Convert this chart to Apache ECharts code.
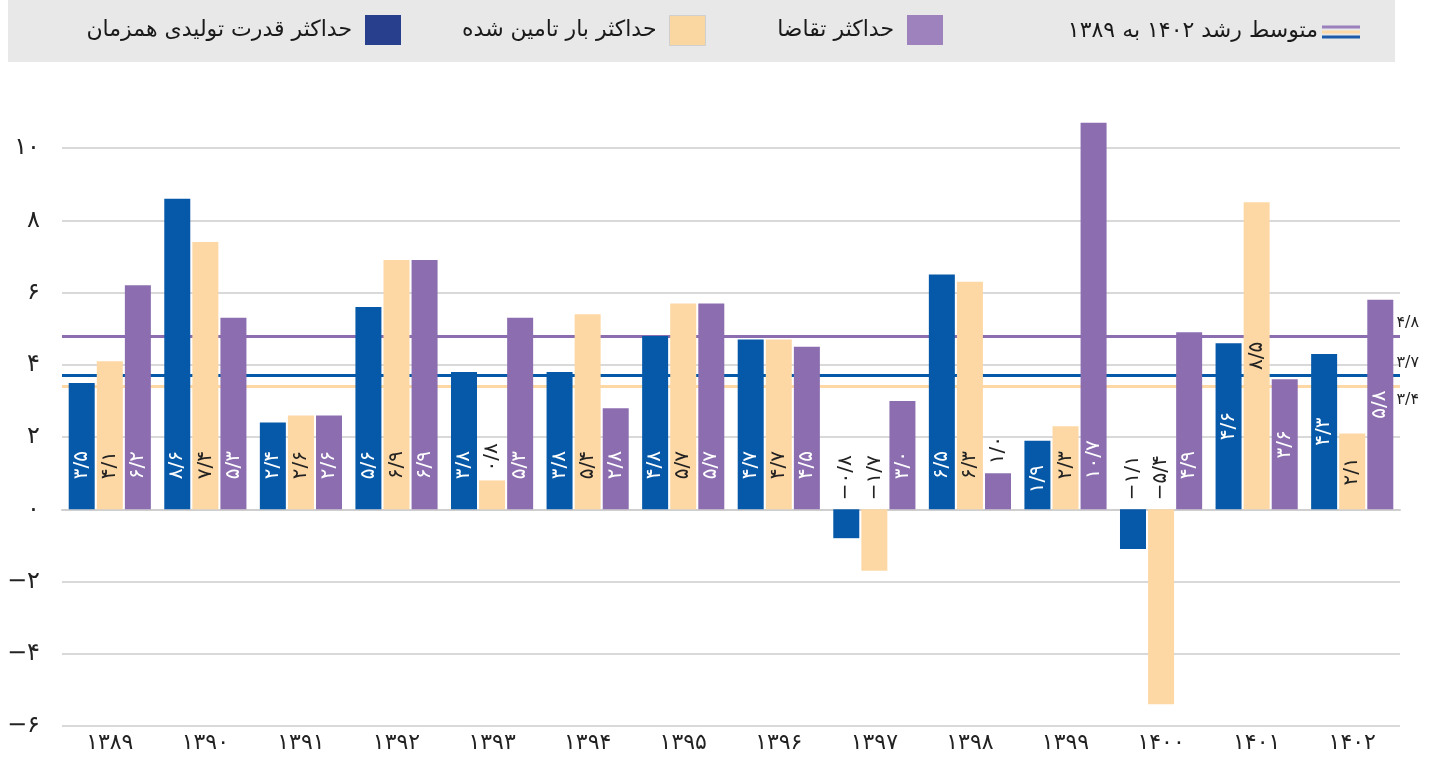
<!DOCTYPE html>
<html>
<head>
    <meta charset="utf-8">
    <title>ECharts</title>
    <script src="https://cdn.jsdelivr.net/npm/echarts@6/dist/echarts.min.js"></script>
</head>
<body style="margin:0;background:#fff">
    <div id="main" style="width:1439px;height:758px;"></div>
    <script type="text/javascript">
        var FONT = 'DejaVu Sans';

        // داده‌ها
        var years = ['۱۳۸۹', '۱۳۹۰', '۱۳۹۱', '۱۳۹۲', '۱۳۹۳', '۱۳۹۴', '۱۳۹۵',
                     '۱۳۹۶', '۱۳۹۷', '۱۳۹۸', '۱۳۹۹', '۱۴۰۰', '۱۴۰۱', '۱۴۰۲'];
        var capacity = [3.5, 8.6, 2.4, 5.6, 3.8, 3.8, 4.8, 4.7, -0.8, 6.5, 1.9, -1.1, 4.6, 4.3];
        var supplied = [4.1, 7.4, 2.6, 6.9, 0.8, 5.4, 5.7, 4.7, -1.7, 6.3, 2.3, -5.4, 8.5, 2.1];
        var demand   = [6.2, 5.3, 2.6, 6.9, 5.3, 2.8, 5.7, 4.5, 3.0, 1.0, 10.7, 4.9, 3.6, 5.8];
        var avgGrowth = { capacity: 3.7, supplied: 3.4, demand: 4.8 };
        var yTicks = { min: -6, max: 11, step: 2 };

        var names = ['حداکثر قدرت تولیدی همزمان', 'حداکثر بار تامین شده', 'حداکثر تقاضا'];
        var avgName = 'متوسط رشد ۱۴۰۲ به ۱۳۸۹';

        var BLUE = '#0659a8', YELLOW = '#fdd8a5', PURPLE = '#8c6eb0';

        function fa(v, digits) {
            var s = digits === 0 ? String(v) : v.toFixed(1);
            return s.replace('-', '−').replace('.', '/').replace(/\d/g, function (d) {
                return '۰۱۲۳۴۵۶۷۸۹'[d];
            });
        }

        // سال‌های آخر برچسب وسط ستون دارند
        var insideCats = [12, 13];
        var lowBottom = { '0-10': 16 };

        function labelFor(v, s, i) {
            var lab = {
                show: true, rotate: 90, align: 'left', verticalAlign: 'middle',
                fontSize: 20, fontFamily: FONT,
                color: s === 1 ? '#222' : '#fff',
                formatter: fa(v)
            };
            if (v < 1.5) {
                lab.position = 'top'; lab.distance = 9; lab.color = '#222';
            } else if (insideCats.indexOf(i) >= 0) {
                lab.position = 'inside'; lab.align = 'center';
            } else {
                lab.position = 'insideBottom';
                lab.distance = lowBottom[s + '-' + i] || 30;
            }
            return lab;
        }

        function build(vals, s) {
            return vals.map(function (v, i) {
                return { value: v, label: labelFor(v, s, i) };
            });
        }

        var myChart = echarts.init(document.getElementById('main'));

        var legendBase = {
            top: 15, padding: 0, orient: 'horizontal', align: 'right',
            itemWidth: 36, itemHeight: 30, icon: 'rect', selectedMode: false,
            textStyle: { fontSize: 22, fontFamily: FONT, color: '#1a1a1a', padding: [0, 8, 0, 0] }
        };
        function legendAt(name, color, right, extra) {
            var l = Object.assign({}, legendBase);
            l.right = right;
            l.data = [{ name: name, itemStyle: Object.assign({ color: color }, extra || {}) }];
            return l;
        }

        var endLabel = { offset: [24, 0] };

        option = {
            animation: false,
            textStyle: { fontFamily: FONT },
            graphic: [
                { type: 'rect', z: 0, shape: { x: 8, y: 0, width: 1387, height: 62 }, style: { fill: '#e8e8e8' } },
                { type: 'line', z: 1, shape: { x1: 1322, y1: 27, x2: 1360, y2: 27 }, style: { stroke: '#9a80bd', lineWidth: 3 } },
                { type: 'line', z: 1, shape: { x1: 1322, y1: 32, x2: 1360, y2: 32 }, style: { stroke: '#fcd9a6', lineWidth: 3 } },
                { type: 'line', z: 1, shape: { x1: 1322, y1: 37, x2: 1360, y2: 37 }, style: { stroke: '#1d5aa8', lineWidth: 3 } },
                { type: 'text', z: 1, x: 1318, y: 31, style: { text: avgName, font: '22px ' + FONT, fill: '#1a1a1a', align: 'right', verticalAlign: 'middle' } }
            ],
            legend: [
                legendAt(names[0], '#283f8d', 1439 - 401),
                legendAt(names[1], '#fad6a0', 1439 - 706, { borderColor: '#cfcfcf', borderWidth: 1 }),
                legendAt(names[2], '#9d82bd', 1439 - 943)
            ],
            grid: { left: 62, right: 39, top: 112, bottom: 32, outerBoundsMode: 'none' },
            xAxis: [
                {
                    type: 'category', data: years, position: 'bottom',
                    axisLine: { show: false, onZero: false },
                    axisTick: { show: false },
                    axisLabel: { fontSize: 22, color: '#222', margin: 6, fontFamily: FONT }
                },
                {
                    type: 'category', data: years, position: 'bottom',
                    axisLine: { onZero: true, lineStyle: { color: '#cfcfcf', width: 2 } },
                    axisTick: { inside: true, length: 10, lineStyle: { color: '#cfcfcf', width: 2 } },
                    axisLabel: { show: false }
                }
            ],
            yAxis: {
                type: 'value', min: yTicks.min, max: yTicks.max, interval: yTicks.step,
                axisLine: { show: false }, axisTick: { show: false },
                axisLabel: {
                    fontSize: 24, color: '#222', margin: 22, fontFamily: FONT, showMaxLabel: false,
                    formatter: function (v) { return fa(v, 0); }
                },
                splitLine: { showMaxLine: false, lineStyle: { color: '#d9d9d9', width: 2 } }
            },
            series: [
                {
                    name: names[0], type: 'bar', barWidth: 26, barGap: '8%',
                    itemStyle: { color: BLUE },
                    data: build(capacity, 0),
                    markLine: {
                        z: 1, silent: true, symbol: ['none', 'none'],
                        label: { fontSize: 16, fontFamily: FONT, color: '#222',
                                 formatter: function (p) { return fa(p.value); } },
                        data: [
                            { yAxis: avgGrowth.demand, lineStyle: { color: PURPLE, width: 3, type: 'solid' },
                              label: Object.assign({ position: 'insideEndTop' }, endLabel) },
                            { yAxis: avgGrowth.capacity, lineStyle: { color: BLUE, width: 3, type: 'solid' },
                              label: Object.assign({ position: 'insideEndTop' }, endLabel) },
                            { yAxis: avgGrowth.supplied, lineStyle: { color: YELLOW, width: 3, type: 'solid' },
                              label: Object.assign({ position: 'insideEndBottom' }, endLabel) }
                        ]
                    }
                },
                {
                    name: names[1], type: 'bar', barWidth: 26, barGap: '8%',
                    itemStyle: { color: YELLOW },
                    data: build(supplied, 1)
                },
                {
                    name: names[2], type: 'bar', barWidth: 26, barGap: '8%',
                    itemStyle: { color: PURPLE },
                    data: build(demand, 2)
                }
            ]
        };

        myChart.setOption(option);
    </script>
</body>
</html>
